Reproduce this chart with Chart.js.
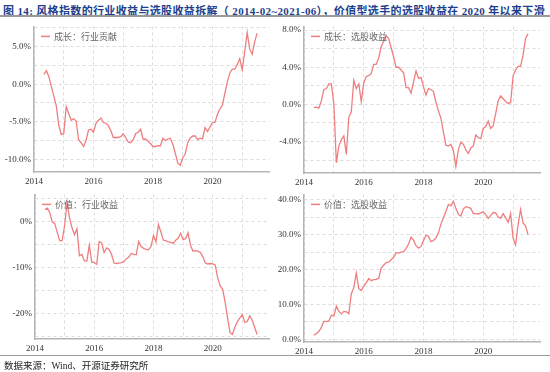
<!DOCTYPE html>
<html>
<head>
<meta charset="utf-8">
<script src="https://cdn.jsdelivr.net/npm/chart.js@4.4.0/dist/chart.umd.min.js"></script>
<style>
body { margin: 0; width: 550px; height: 372px; background: #fff; position: relative; overflow: hidden; font-family: "Liberation Serif", "Noto Sans CJK SC", serif; }
#titulo { position: absolute; left: 3px; top: 2px; font-size: 11px; font-weight: bold; color: #1d3f8f; white-space: nowrap; letter-spacing: 0.35px; }
.regua { position: absolute; left: 0; width: 550px; background: #9a9a9a; }
.painel { position: absolute; }
#fonte { position: absolute; left: 4px; top: 358px; font-size: 9.5px; color: #222; white-space: nowrap; }
</style>
</head>
<body>
<div id="titulo">图 14: 风格指数的行业收益与选股收益拆解（ 2014-02~2021-06），价值型选手的选股收益在 2020 年以来下滑</div>
<div class="regua" style="top:15px;height:2px"></div>
<div class="painel" style="left:0;top:18px;width:272px;height:172px"><canvas id="c1"></canvas></div>
<div class="painel" style="left:272px;top:18px;width:271px;height:172px"><canvas id="c2"></canvas></div>
<div class="painel" style="left:0;top:186px;width:272px;height:170px"><canvas id="c3"></canvas></div>
<div class="painel" style="left:272px;top:186px;width:271px;height:170px"><canvas id="c4"></canvas></div>
<div class="regua" style="top:355px;height:1px"></div>
<div id="fonte">数据来源：Wind、开源证券研究所</div>

<script>
const meses = [
    '2014-04','2014-05','2014-06','2014-07','2014-08','2014-09','2014-10','2014-11','2014-12',
    '2015-01','2015-02','2015-03','2015-04','2015-05','2015-06','2015-07','2015-08','2015-09','2015-10','2015-11','2015-12',
    '2016-01','2016-02','2016-03','2016-04','2016-05','2016-06','2016-07','2016-08','2016-09','2016-10','2016-11','2016-12',
    '2017-01','2017-02','2017-03','2017-04','2017-05','2017-06','2017-07','2017-08','2017-09','2017-10','2017-11','2017-12',
    '2018-01','2018-02','2018-03','2018-04','2018-05','2018-06','2018-07','2018-08','2018-09','2018-10','2018-11','2018-12',
    '2019-01','2019-02','2019-03','2019-04','2019-05','2019-06','2019-07','2019-08','2019-09','2019-10','2019-11','2019-12',
    '2020-01','2020-02','2020-03','2020-04','2020-05','2020-06','2020-07','2020-08','2020-09','2020-10','2020-11','2020-12',
    '2021-01','2021-02','2021-03','2021-04','2021-05','2021-06'
];

const anosEixo = [2014, 2016, 2018, 2020];

// 成长：行业贡献 (%)
const crescimentoIndustria = [
    1.3, 1.8, 1.0, -0.3, -1.6, -2.9, -5.5, -6.7, -6.6,
    -3.0, -3.9, -4.8, -4.6, -4.9, -7.4, -7.8, -8.3, -7.5, -6.1, -6.0, -6.4,
    -5.2, -4.8, -4.5, -5.1, -5.2, -5.5, -6.2, -7.1, -7.1, -7.1, -7.0, -6.6,
    -7.1, -7.7, -7.8, -7.4, -6.6, -6.4, -6.0, -7.3, -7.3, -7.6, -7.9, -8.3,
    -8.3, -8.2, -8.2, -7.2, -7.5, -7.3, -7.2, -8.0, -9.2, -10.5, -10.8, -9.8,
    -9.3, -7.8, -7.2, -6.9, -6.9, -7.4, -7.2, -7.3, -5.8, -6.3, -5.7, -5.1,
    -5.1, -4.0, -3.3, -2.8, -1.2, 0.3, 1.5, 2.0, 2.0, 2.6, 3.4, 1.9,
    4.3, 6.9, 4.7, 4.0, 5.6, 6.8
];

// 成长：选股收益 (%)
const crescimentoSelecao = [
    -0.35, -0.3, -0.4, 0.4, 1.6, 1.7, 2.2, 2.2, 0.0,
    -6.3, -4.5, -3.8, -3.4, -5.4, -1.4, -0.8, 2.6, 1.7, 2.2, 0.3, 2.3,
    3.0, 3.1, 3.3, 4.3, 4.3, 5.0, 6.2, 6.8, 7.4, 7.1, 6.1, 5.1,
    4.0, 4.0, 3.7, 3.4, 1.8, 1.8, 1.2, 2.4, 3.6, 2.8, 2.9, 1.9,
    1.0, 1.7, 1.6, 1.4, 0.2, -0.7, -1.5, -3.0, -4.4, -4.5, -4.3, -5.0,
    -6.7, -4.9, -4.1, -4.3, -4.9, -5.3, -4.7, -4.5, -3.3, -3.6, -3.7, -2.6,
    -2.4, -1.8, -2.6, -2.3, -1.0, 0.4, 0.9, 0.6, 0.3, 0.1, 0.2, 3.1,
    3.7, 4.1, 4.1, 5.3, 7.1, 7.6
];

// 价值：行业收益 (%)
const valorIndustria = [
    2.7, 3.0, 2.0, 0.0, -0.4, -2.3, -4.1, -4.1, -0.8,
    4.3, 0.8, -1.3, -2.8, -1.5, -7.4, -7.1, -8.5, -8.6, -5.1, -8.8, -8.9,
    -9.3, -4.3, -4.6, -6.7, -5.7, -6.0, -7.1, -9.0, -9.1, -9.0, -8.9, -8.7,
    -8.1, -7.7, -6.9, -7.1, -7.2, -4.3, -5.4, -5.8, -6.0, -6.1, -5.4, -3.0,
    -4.4, -0.6, -2.2, -4.0, -4.1, -4.4, -4.5, -4.7, -4.0, -3.6, -2.5, -3.9,
    -3.7, -2.4, -5.1, -6.4, -6.3, -6.4, -6.7, -7.6, -9.0, -9.2, -9.1, -9.2,
    -9.4, -12.2, -14.0, -14.7, -17.5, -21.0, -24.2, -24.6, -23.0, -21.8, -21.0, -20.3,
    -22.0, -21.8, -20.5, -21.5, -23.1, -24.6
];

// 价值：选股收益 (%)
const valorSelecao = [
    1.2, 1.7, 2.3, 3.4, 5.2, 5.1, 5.3, 6.9, 6.7,
    9.5, 8.0, 7.3, 8.0, 7.9, 7.3, 13.0, 14.8, 19.0, 14.5, 14.0, 15.3,
    16.2, 17.4, 16.8, 17.1, 17.2, 17.5, 20.4, 21.2, 22.0, 22.1, 22.8, 23.5,
    24.8, 24.7, 25.0, 25.1, 26.0, 27.3, 29.2, 28.4, 26.8, 26.1, 26.6, 28.3,
    29.8, 29.5, 28.0, 28.3, 29.0, 30.5, 33.0, 34.8, 36.6, 38.6, 38.2, 39.5,
    37.5, 35.8, 35.3, 37.3, 38.0, 37.8, 37.5, 36.0, 36.0, 35.9, 36.2, 36.5,
    35.7, 34.6, 35.5, 36.3, 36.2, 35.0, 34.7, 36.0, 34.8, 33.5, 36.0, 29.0,
    27.0, 32.8, 37.2, 33.3, 32.5, 30.0
];

const corLinha = '#ef7f7f';

// mês -> posição em anos (fim do mês)
function paraAno(mes) {
    const [a, m] = mes.split('-').map(Number);
    return a + m / 12;
}

// legenda desenhada dentro da área do gráfico, canto superior esquerdo
const legendaInterna = {
    id: 'legendaInterna',
    afterDatasetsDraw(chart) {
        const { ctx, chartArea } = chart;
        const ds = chart.data.datasets[0];
        const x = chartArea.left + 7;
        const y = chartArea.top + 10;
        ctx.save();
        ctx.strokeStyle = ds.borderColor;
        ctx.lineWidth = 1.5;
        ctx.beginPath();
        ctx.moveTo(x, y);
        ctx.lineTo(x + 9, y);
        ctx.stroke();
        ctx.fillStyle = '#666';
        ctx.font = '9px "Noto Sans CJK SC"';
        ctx.textBaseline = 'middle';
        ctx.fillText(ds.label, x + 13, y);
        ctx.restore();
    }
};

function gerarGrafico(id, rotulo, valores, cfg) {
    const ctx = document.getElementById(id).getContext('2d');
    return new Chart(ctx, {
        type: 'line',
        data: {
            datasets: [{
                label: rotulo,
                data: meses.map((m, i) => ({ x: paraAno(m), y: valores[i] })),
                borderColor: corLinha,
                borderWidth: 1.3,
                pointRadius: 0,
                tension: 0
            }]
        },
        options: {
            animation: false,
            responsive: true,
            maintainAspectRatio: false,
            devicePixelRatio: 1,
            layout: { padding: { top: cfg.topo, right: 3, left: 0, bottom: 0 } },
            plugins: { legend: { display: false }, tooltip: { enabled: false } },
            scales: {
                x: {
                    type: 'linear',
                    min: 2014,
                    max: 2021.9,
                    afterFit: s => { s.height = cfg.alturaX; },
                    grid: { color: '#dcdcdc', drawTicks: false },
                    border: { color: '#b5b5b5', width: 1.5, dash: [3, 3] },
                    ticks: {
                        stepSize: 1,
                        includeBounds: false,
                        autoSkip: false,
                        maxRotation: 0,
                        padding: 4,
                        color: '#333',
                        font: { family: 'Liberation Serif', size: 9 },
                        callback: v => anosEixo.includes(v) ? String(v) : ''
                    }
                },
                y: {
                    min: cfg.min,
                    max: cfg.max,
                    afterFit: s => { s.width = cfg.larguraY; },
                    grid: { color: '#dcdcdc', drawTicks: false },
                    border: { color: '#b5b5b5', width: 1.5, dash: [3, 3] },
                    ticks: {
                        stepSize: cfg.passo,
                        includeBounds: false,
                        padding: 3,
                        color: '#333',
                        font: { family: 'Liberation Serif', size: 9 },
                        callback: v => {
                            const k = Math.round(v / cfg.passoRotulo);
                            if (Math.abs(v - k * cfg.passoRotulo) > 1e-6) return '';
                            return (k * cfg.passoRotulo).toFixed(cfg.casas) + '%';
                        }
                    }
                }
            }
        },
        plugins: [legendaInterna]
    });
}

function inicializar() {
    gerarGrafico('c1', '成长：行业贡献', crescimentoIndustria,
        { min: -11.7, max: 7.7, passo: 2.5, passoRotulo: 5, casas: 1, topo: 3, larguraY: 34, alturaX: 18 });
    gerarGrafico('c2', '成长：选股收益', crescimentoSelecao,
        { min: -7.4, max: 8.4, passo: 2, passoRotulo: 4, casas: 1, topo: 4, larguraY: 32, alturaX: 17 });
    gerarGrafico('c3', '价值：行业收益', valorIndustria,
        { min: -25.6, max: 6, passo: 5, passoRotulo: 10, casas: 0, topo: 4, larguraY: 35, alturaX: 17 });
    gerarGrafico('c4', '价值：选股收益', valorSelecao,
        { min: -0.76, max: 41.5, passo: 5, passoRotulo: 10, casas: 1, topo: 6, larguraY: 32, alturaX: 14 });
}

window.onload = inicializar;
</script>
</body>
</html>
